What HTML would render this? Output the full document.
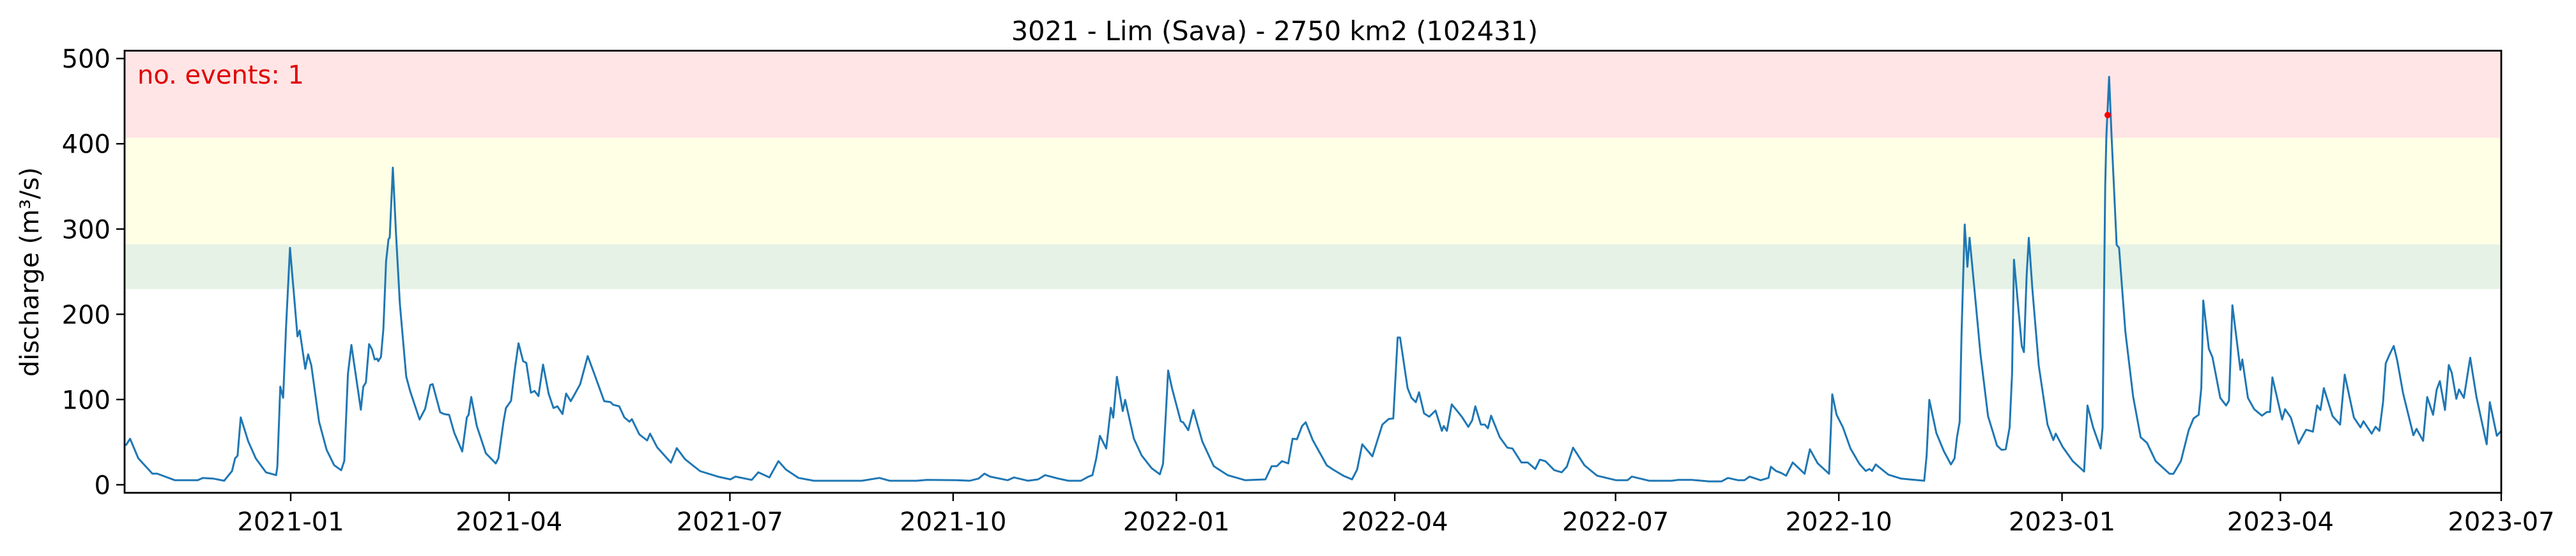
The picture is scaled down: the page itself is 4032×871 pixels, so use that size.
<!DOCTYPE html>
<html><head><meta charset="utf-8"><style>
html,body{margin:0;padding:0;background:#fff;}
svg{display:block;font-family:"DejaVu Sans","Liberation Sans",sans-serif;}
</style></head><body>
<svg id="chart" width="4032" height="871" viewBox="0 0 4032 871" xmlns="http://www.w3.org/2000/svg">
<g id="bands"></g>
<g id="xaxis"></g>
<g id="yaxis"></g>
<g id="series"></g>
<rect x="195" y="79.4" width="3720" height="692.6" fill="none" stroke="#000" stroke-width="2.8"/>
<text x="1995" y="63" font-size="41.5" text-anchor="middle" fill="#000">3021 - Lim (Sava) - 2750 km2 (102431)</text>
<text transform="translate(60,426) rotate(-90)" font-size="40" text-anchor="middle" fill="#000">discharge (m³/s)</text>
<text x="215" y="131" font-size="40" fill="#e00000">no. events: 1</text>
</svg>
<script>
// days since 2021-01-01
const days = [-68,-66.2,-62.8,-57,-55,-47.7,-38.3,-36.2,-32,-27.4,-24.2,-22.9,-21.9,-20.6,-17.5,-14.4,-10.2,-6,-5.5,-4.3,-3.1,-1.9,-0.3,1.3,2.8,3.7,6,7.2,8.5,11.7,14.8,17.9,20.8,22.1,23.6,25,28.9,29.9,31,32.3,33.5,34.6,35.6,36.1,37.2,38.2,39.3,40.3,40.8,42.1,43.4,45,47.6,49.2,53.1,55.4,57.5,58.5,61.6,63.2,65.3,67.4,70.7,72.6,73.3,74.4,76.7,80.4,84.5,85.6,87.7,88.7,90.8,92.4,93.9,
95.8,97.1,99,100.5,102.1,104,106.3,108.3,109.9,112,113.5,115.4,117.2,119.3,122.4,125,129.2,131.8,132.8,135.4,137.5,139.6,140.6,143.7,146.9,148.1,151,156.7,159.1,162.5,168.7,176,181.2,183.3,190,192.7,197.3,201,204.1,209.3,215.6,235.4,242.6,246.8,258,
262.2,274.7,279.9,283.5,285.9,288.2,295.5,298.1,303.8,308,310.9,316.3,320.5,325.7,328.8,330.4,332,333.5,336.1,338,339,340.5,342.9,343.9,347.5,350.7,354.8,358.2,359.5,360.6,361.6,363.2,366.8,367.8,369.9,372,375.7,380.4,386.1,393.4,401.7,404.3,406.4,408.5,411.1,412.9,414.7,416.8,418.3,421.2,
427,429.6,433.8,437.4,439.5,441.6,445.8,449.9,452.5,454.4,456.2,457.2,460.3,461.9,463.7,465,467.1,469.2,471.8,474.4,475.2,476.5,478.5,480.6,482.7,485.3,486.9,488.2,490.5,492.1,493.4,494.7,498.3,501.4,503.5,507.2,509.8,512.9,514.8,517.1,520.7,523.8,525.9,528.5,533.2,538.4,546.2,550.9,552.7,559.8,569.1,571.7,577.4,584.5,
589.7,592.3,596.5,599.1,601.2,605.8,609,610,612.1,614.2,616.3,619,623.9,626.1,629.3,634,635.3,637.1,639.7,642.8,646.5,649.1,650.6,651.7,653.2,658.4,663.6,673.2,674.2,675.3,678.2,681.3,684.2,685.7,686.7,687.8,688.6,689.9,691,691.9,693.8,696.4,699.5,703.2,705.1,706.8,708.4,709.4,710.2,713.4,714.3,715.4,716.3,717.8,720.4,724,726.4,727.4,730.3,734.4,739.1,740.5,742.8,745.9,746.7,747.8,
748.3,749.4,750.4,752.5,753.5,756.1,759.3,762.4,765,768.6,774.3,775.9,779,782.2,784.2,786.3,787.4,788.2,790.5,792,795.2,797.6,798.8,800.2,803.5,804.3,806.6,809.2,812.4,814.4,815.7,816.7,820.7,821.9,824.3,827.5,830.6,833.4,835.1,836.5,837.9,841.5,844.6,846.5,850.3,853,854.2,857.6,859.2,860.8,862.3,863.4,865,866.7,868.1,870.6,874.8,876.1,878.8,880.5,882.9,884.4,885.7,887.8,889.4,890.6,892.5,893.6,895.6,898.2,900.8,905,906.3,909.2,911];
const discharge = [45.9,54,31,13,13,5.3,5.3,8,7.3,4.7,16,31,34,79,51,31,14.6,11.3,21,115,102,186,278,225,174,181,136,153,140,74,41,23,17,28,130,164,88,115,120,165,159,147,148,145,150,183,262,288,290,372,295,212,127,110,76.5,89,117,118,85,83,82,61,39,79,82,103,69,37,25,31,74,90,98.5,136,166,
145,143,108,110,104,141,107,90,92,83,107,98,107,118,151,131,98,97,94,92,79,74,77,59,52,60,44,26,43,30,16,9.6,6.3,9.6,5.7,14.6,8.6,27.7,17.8,8,4.7,4.7,8,4.7,4.7,
5.7,5.3,4.7,7.3,13,9.6,5.3,8.6,4.7,6.3,11.3,7.3,4.7,4.7,9.6,11.3,31,57.4,42.5,90.3,78.8,126.6,86.4,99.6,54,34.3,19.5,12.3,24.4,80.5,134,113.4,74.5,73.2,64,87.7,50.8,21.8,11.3,5.3,6.3,21.8,21.8,27.7,25,54,53.4,68.9,73.2,52.4,
22.8,17.8,10.6,6.3,17.8,47.5,33.3,70.6,77.1,77.8,172.7,172.7,113.4,101.9,96.9,108.4,83.7,79.8,87,63.3,68.9,63.3,94.3,87,79.5,67.9,75.5,92,70.6,70.6,66.3,81,55.7,43.5,42.5,26.1,26.1,18.5,29.4,27.7,17.2,14.6,21.1,43.5,22.8,10.6,5.3,5.3,9.6,4.7,4.7,5.7,5.7,4,
4,8,5.3,5.3,9.6,5.3,8,21.1,16.2,13.9,10.6,26.1,12.9,41.6,25.1,12.9,106.1,82.1,67.3,42.5,24.4,16.2,18.5,16.2,23.8,11.9,7.3,4.7,34.3,99.6,60.7,39.3,23.8,31,55.7,73.9,179.3,305.2,255.7,289.7,232,153,80.5,45.9,40.9,41.6,67.3,129.9,264,162.8,155.6,245.2,289.7,228.7,139.8,70.6,52.4,60,44.2,27.7,15.5,92.9,67.3,42.5,67.3,350.6,
410,478.5,410,281.4,278,179.3,103.5,55.7,49.2,27.7,12.9,12.9,27.7,64,77.8,82.1,113.4,216.2,159.5,149.6,101.9,93,98.6,210.6,134.8,147,101.9,88.7,81,85.4,85.4,125.9,76.5,88.7,78.8,48.2,64.6,62.3,93,87.7,113.4,80.5,70.6,129.2,78.8,67.3,74.5,60,68,63.3,96.9,142.4,153,162.8,146.4,106.8,58,65.6,51.5,102.9,82.1,111.8,121.6,87.7,140.4,131.5,100.9,111.8,101.9,149,102.9,47.5,96.9,57.4,63.3];
const eventDays = [748.8];
const eventValues = [433.7];
const xTickDays = [0,90,181,273,365,455,546,638,730,820,911];
const xTickLabels = ["2021-01","2021-04","2021-07","2021-10","2022-01","2022-04","2022-07","2022-10","2023-01","2023-04","2023-07"];
const yTicks = [0,100,200,300,400,500];
const bandLows = [229.7,282,407];
const bandHighs = [282,407,509];
const bandColors = ["#e5f2e5","#ffffe5","#ffe5e6"];
const bandNames = ["band-green","band-yellow","band-red"];

const NS = "http://www.w3.org/2000/svg";
const L = 195, R = 3915, T = 79.4, B = 772;
const x = d => 455 + d * 3.798;
const y = v => 759.4 - v * 1.3354;
function mk(tag, attrs, parent) {
  const e = document.createElementNS(NS, tag);
  for (const k in attrs) e.setAttribute(k, attrs[k]);
  parent.appendChild(e);
  return e;
}
const bandsG = document.getElementById('bands');
bandLows.forEach((lo, i) => {
  const yt = Math.max(T, y(bandHighs[i]));
  const r = mk('rect', {x: L, y: yt, width: R - L, height: y(lo) - yt, fill: bandColors[i]}, bandsG);
  
  
});
const xg = document.getElementById('xaxis');
xTickDays.forEach((d, i) => {
  const t = mk('line', {x1: x(d), x2: x(d), y1: B, y2: B + 13, stroke: '#000', 'stroke-width': 2.4}, xg);
  
  
  const lb = mk('text', {x: x(d), y: 831, 'font-size': 40, 'text-anchor': 'middle', fill: '#000'}, xg);
  lb.textContent = xTickLabels[i];
  
  
});
const yg = document.getElementById('yaxis');
yTicks.forEach(v => {
  const t = mk('line', {x1: L - 13, x2: L, y1: y(v), y2: y(v), stroke: '#000', 'stroke-width': 2.4}, yg);
  
  
  const lb = mk('text', {x: L - 22, y: y(v) + 14.5, 'font-size': 40, 'text-anchor': 'end', fill: '#000'}, yg);
  lb.textContent = v;
  
  
});
const sg = document.getElementById('series');
const pts = days.map((d, i) => x(d).toFixed(1) + ',' + y(discharge[i]).toFixed(1)).join(' ');
const line = mk('polyline', {points: pts, fill: 'none', stroke: '#1f77b4', 'stroke-width': 3, 'stroke-linejoin': 'round'}, sg);


eventDays.forEach((d, i) => {
  const c = mk('circle', {cx: x(d), cy: y(eventValues[i]), r: 5, fill: '#ff0000'}, sg);
  
  
});
</script>
</body></html>
